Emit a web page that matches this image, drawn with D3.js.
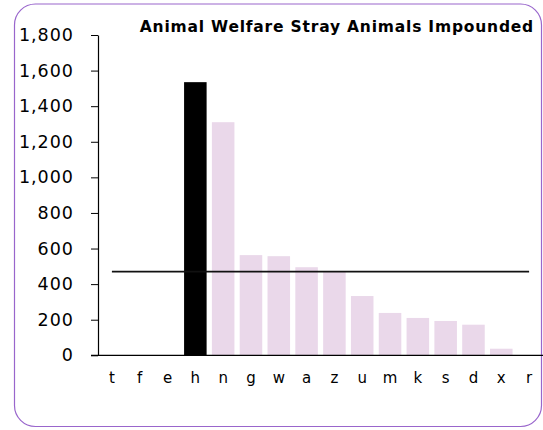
<!DOCTYPE html>
<html>
<head>
<meta charset="utf-8">
<script src="https://cdn.jsdelivr.net/npm/d3@7"></script>
<style>
  html, body { margin: 0; padding: 0; background: #fff; }
  svg { display: block; }
</style>
</head>
<body>
<svg id="chart" width="543" height="430"></svg>
<script>
const categories = ["t","f","e","h","n","g","w","a","z","u","m","k","s","d","x","r"];
const values = [0, 0, 0, 1535, 1310, 563, 557, 495, 468, 333, 238, 210, 193, 172, 37, 0];
const highlighted = "h";
const averageValue = 470;
const yTicks = [0, 200, 400, 600, 800, 1000, 1200, 1400, 1600, 1800];
const title = "Animal Welfare Stray Animals Impounded";

const svg = d3.select("#chart");
const font = "DejaVu Sans, Verdana, sans-serif";

// frame
svg.append("rect")
  .attr("x", 14.5).attr("y", 4).attr("width", 527).attr("height", 422.5)
  .attr("rx", 21).attr("ry", 21)
  .attr("fill", "#fff").attr("stroke", "#9966cc").attr("stroke-width", 1.2);

const x = d3.scaleBand().domain(categories).range([98, 543])
  .paddingInner(0.19).paddingOuter(0.095);
const y = d3.scaleLinear().domain([0, 1800]).range([355.3, 35]);

const data = categories.map((c, i) => ({ c, v: values[i] }));

svg.append("g").selectAll("rect").data(data).join("rect")
  .attr("x", d => x(d.c))
  .attr("width", x.bandwidth())
  .attr("y", d => y(d.v))
  .attr("height", d => y(0) - y(d.v))
  .attr("fill", d => d.c === highlighted ? "#000" : "#ead8ea");

// average line
svg.append("line")
  .attr("x1", x(categories[0]) + x.bandwidth() / 2)
  .attr("x2", x(categories[categories.length - 1]) + x.bandwidth() / 2)
  .attr("y1", y(averageValue)).attr("y2", y(averageValue))
  .attr("stroke", "#111").attr("stroke-width", 1.8);

// y axis
const yAxis = svg.append("g").attr("transform", "translate(98,0)")
  .call(d3.axisLeft(y).tickValues(yTicks).tickFormat(d3.format(",")).tickSize(7).tickPadding(17).tickSizeOuter(0));
yAxis.select(".domain").attr("stroke", "#000").attr("stroke-width", 1.2);
yAxis.selectAll(".tick line").attr("stroke", "#000");
yAxis.selectAll("text").attr("font-family", font).attr("font-size", 17.5)
  .attr("letter-spacing", "1px").attr("fill", "#000");

// x axis
const xAxis = svg.append("g").attr("transform", `translate(0,${y(0)})`)
  .call(d3.axisBottom(x).tickSize(0).tickPadding(17).tickSizeOuter(0));
xAxis.select(".domain").attr("stroke", "#000").attr("stroke-width", 1.2)
  .attr("d", `M91,0H543`);
xAxis.selectAll("text").attr("font-family", font).attr("font-size", 15).attr("fill", "#000");

// title
svg.append("text")
  .attr("x", 534).attr("y", 31.5)
  .attr("text-anchor", "end")
  .attr("font-family", font).attr("font-weight", "bold").attr("font-size", 15.5)
  .attr("letter-spacing", "0.8px")
  .attr("fill", "#000")
  .text(title);
</script>
</body>
</html>
